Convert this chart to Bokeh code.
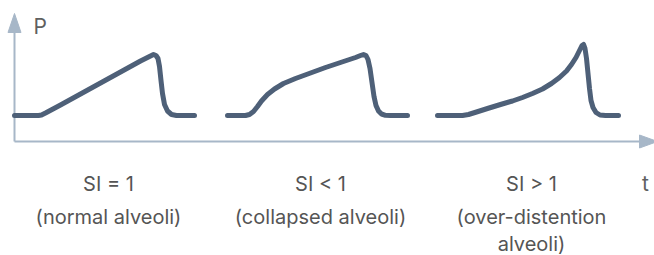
from bokeh.plotting import figure
from bokeh.models import Range1d, ColumnDataSource
from bokeh.core.properties import value
from bokeh.embed import file_html
from bokeh.resources import INLINE

# ---- data (reference pixel coordinates) ----
curve1_x = [14, 38, 41, 45, 60, 80, 100, 120, 140, 150, 153, 155.5, 157.5, 159, 160.5, 162, 164, 167, 171, 176, 194]
curve1_y = [115, 115, 114.5, 112.5, 104.5, 93.5, 82.5, 71.5, 60.5, 55.5, 54, 55, 58, 66, 80, 93, 104, 110.5, 114, 115, 115]

curve2_x = [227, 245, 249, 253, 257, 261, 267, 274, 283, 295, 310, 325, 340, 355, 360, 363, 365.5, 367.5, 369.5, 371.5, 373.5, 375.5, 378, 381, 385, 390, 407]
curve2_y = [115, 115, 114, 111, 106, 100.5, 94, 88.5, 83, 78, 72.5, 67, 62, 57, 55, 54, 55, 59, 68, 82, 96, 105, 110.5, 113.5, 114.8, 115, 115]

curve3_x = [437, 462, 468, 476, 487, 500, 512, 522, 532, 542, 551, 559, 566, 571, 575.5, 579, 581.5, 583, 584.5, 586, 587.5, 589, 590.5, 592.5, 595.5, 599.5, 605, 618]
curve3_y = [115, 115, 114, 111.5, 108, 104, 100.5, 97, 93, 88.5, 83, 77, 70.5, 64, 57, 50, 45, 44, 48, 58, 73, 88, 100, 107, 112, 114.5, 115, 115]

# axis geometry
yaxis_x = [14, 14]
yaxis_y = [141, 30]
yhead_x = [14, 7.5, 20.5]
yhead_y = [13, 32, 32]
xaxis_x = [14, 642]
xaxis_y = [141, 141]
xhead_x = [657, 639, 639]
xhead_y = [141, 134.5, 147.5]

# labels
label_x = [108, 320, 531]
line1 = ["SI = 1", "SI < 1", "SI > 1"]
line2 = ["(normal alveoli)", "(collapsed alveoli)", "(over-distention"]
line3 = ["", "", "alveoli)"]
line1_y = [183, 183, 183]
line2_y = [216, 216, 216]
line3_y = [243, 243, 243]

axis_labels = ["P", "t"]
axis_label_x = [33, 645]
axis_label_y = [25.5, 183]
axis_label_align = ["left", "center"]

# ---- figure ----
p = figure(width=654, height=255, output_backend="svg", toolbar_location=None,
           x_range=Range1d(0, 654), y_range=Range1d(255, 0), min_border=0)
p.axis.visible = False
p.grid.visible = False
p.outline_line_color = None
p.background_fill_color = "white"
p.border_fill_color = "white"

AXIS = "#a7b7c8"
CURVE = "#4e6078"
TEXT = "#555555"

p.line(yaxis_x, yaxis_y, line_color=AXIS, line_width=2)
p.line(xaxis_x, xaxis_y, line_color=AXIS, line_width=2)
p.patch(yhead_x, yhead_y, fill_color=AXIS, line_color=AXIS, line_width=1)
p.patch(xhead_x, xhead_y, fill_color=AXIS, line_color=AXIS, line_width=1)

for cx, cy in [(curve1_x, curve1_y), (curve2_x, curve2_y), (curve3_x, curve3_y)]:
    p.line(cx, cy, line_color=CURVE, line_width=5, line_join="round", line_cap="round")

font = value("Inter")
for ys, texts in [(line1_y, line1), (line2_y, line2), (line3_y, line3)]:
    src = ColumnDataSource(dict(x=label_x, y=ys, t=texts))
    p.text(x="x", y="y", text="t", source=src, text_font=font, text_font_size="20px",
           text_color=TEXT, text_align="center", text_baseline="alphabetic")

src_ax = ColumnDataSource(dict(x=axis_label_x, y=axis_label_y, t=axis_labels, a=axis_label_align))
p.text(x="x", y="y", text="t", text_align="a", source=src_ax, text_font=font,
       text_font_size="21px", text_color="#606060", text_baseline="alphabetic")

open("out.html", "w").write(file_html(p, INLINE))
